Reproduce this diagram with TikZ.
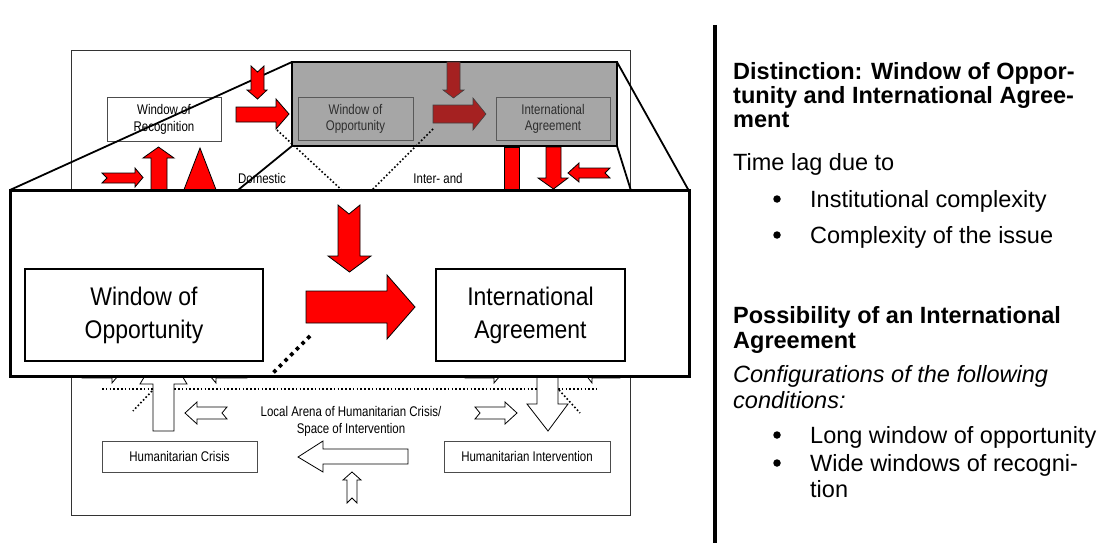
\documentclass[tikz,border=0pt]{standalone}
\usepackage{fontspec}
\setmainfont{Liberation Sans}
\newfontfamily\narrowfont{Liberation Sans}[FakeStretch=0.82]
\newfontfamily\midfont{Liberation Sans}[FakeStretch=0.9]
\definecolor{darkred}{RGB}{165,33,33}
\definecolor{boxgray}{RGB}{166,166,166}
\begin{document}
\begin{tikzpicture}[x=1pt,y=-1pt,
  redarrow/.style={fill=red,draw=black,line width=0.8pt,line join=miter},
  darkarrow/.style={fill=darkred,draw=black!75,line width=0.6pt,line join=miter},
  whitearrow/.style={fill=white,draw=black,line width=0.8pt,line join=miter},
  smallbox/.style={draw=black!70,line width=0.8pt,fill=white,inner sep=0pt,align=center,
     font=\narrowfont\fontsize{14}{17}\selectfont},
  graysub/.style={draw=black!65,line width=0.8pt,inner sep=0pt,align=center,text=black!82,
     font=\narrowfont\fontsize{14}{16}\selectfont},
  bigbox/.style={draw=black,line width=1.6pt,fill=white,inner sep=0pt,align=center,
     font=\midfont\fontsize{25.5}{33}\selectfont},
  smalltext/.style={inner sep=0pt,align=center,font=\narrowfont\fontsize{14}{17}\selectfont},
  projline/.style={draw=black,line width=1.8pt},
  thindot/.style={draw=black,line width=1.6pt,dash pattern=on 1.6pt off 2.2pt},
  thickdot/.style={draw=black,line width=3.6pt,dash pattern=on 3.6pt off 4.4pt},
  paneltext/.style={inner sep=0pt,anchor=base west,font=\fontsize{23.5}{26}\selectfont},
  panelbold/.style={paneltext,font=\bfseries\fontsize{23.5}{26}\selectfont},
  panelit/.style={paneltext,font=\itshape\fontsize{23.5}{26}\selectfont},
  bulletdot/.style={circle,fill=black,inner sep=0pt,minimum size=7.5pt}]
\useasboundingbox (0,0) rectangle (1116,543);
\fill[white] (0,0) rectangle (1116,543);

% background frame
\draw[black!80,line width=0.9pt] (71,50) rectangle (630,515);

% window of recognition
\node[smallbox,minimum width=114pt,minimum height=44pt] (wor) at (164,119) {Window of\\Recognition};

% texts in frame
\node[smalltext] (dom) at (262,178) {Domestic};
\node[smalltext] (inter) at (438,178) {Inter- and};

% projection lines
\coordinate (gtl) at (292,62);
\coordinate (gbl) at (292,146);
\coordinate (gtr) at (617,62);
\coordinate (gbr) at (617,146);
\coordinate (btl) at (10,190);
\coordinate (bbl) at (10,376);
\coordinate (btr) at (689,191);
\coordinate (bbr) at (689,376);
\draw[projline] (gtl) -- (btl);
\draw[projline] (gbl) -- (bbl);
\draw[projline] (gtr) -- (btr);
\draw[projline] (gbr) -- (bbr);

% dotted lines behind
\draw[thindot] (277,130) -- (345,193);

% gray box
\draw[fill=boxgray,draw=black,line width=2.2pt] (gtl) rectangle (gbr);
\node[graysub,minimum width=115pt,minimum height=43pt] (woo1) at (355.5,118.5) {Window of\\Opportunity};
\node[graysub,minimum width=114pt,minimum height=43pt] (ia1) at (553,118.5) {International\\Agreement};
\draw[thindot] (433,129) -- (369,193);

% dark red arrows in gray box
\draw[darkarrow] (447,62) -- (460,62) -- (460,90) -- (464,90) -- (453.5,98) -- (443,90) -- (447,90) -- cycle;
\draw[darkarrow] (433,105) -- (473,105) -- (473,98) -- (486,114) -- (473,130) -- (473,123) -- (433,123) -- cycle;

% red arrows left
\draw[redarrow] (251,66) -- (257.5,72) -- (264,66) -- (264,90) -- (267,90) -- (257.5,99) -- (247,90) -- (251,90) -- cycle;
\draw[redarrow] (236,107) -- (276,107) -- (276,99) -- (289,114) -- (276,129) -- (276,122) -- (236,122) -- cycle;
\draw[redarrow] (151,200) -- (151,158) -- (143,158) -- (158.5,147) -- (174,158) -- (167,158) -- (167,200) -- cycle;
\draw[redarrow] (180,200) -- (200,148) -- (220,200) -- cycle;
\draw[redarrow] (102,173) -- (135,173) -- (135,168) -- (143,177.5) -- (135,187) -- (135,183) -- (102,183) -- (107,178) -- cycle;

% red arrows right
\draw[redarrow] (504,147) rectangle (519,200);
\draw[redarrow] (546,147) -- (561,147) -- (561,178) -- (568,178) -- (553.5,189) -- (538,178) -- (546,178) -- cycle;
\draw[redarrow] (610,168) -- (605,173) -- (610,178) -- (579,178) -- (579,182) -- (568,173) -- (579,163) -- (579,168) -- cycle;

% lower arena
\draw[thindot] (102,389) -- (597,389);
\draw[thindot] (152,391) -- (133,411);
\draw[thindot] (559,390) -- (580,413);
\draw[whitearrow] (153,431) -- (153,384) -- (140,384) -- (163.5,345) -- (187,384) -- (174,384) -- (174,431) -- cycle;
\draw[whitearrow] (82,366) -- (112,366) -- (112,360) -- (123,370) -- (112,383) -- (112,378) -- (82,378) -- cycle;
\draw[whitearrow] (247,366) -- (216,366) -- (216,360) -- (205,370) -- (216,383) -- (216,378) -- (247,378) -- cycle;
\draw[whitearrow] (465,366) -- (494,366) -- (494,360) -- (505,370) -- (494,383) -- (494,378) -- (465,378) -- cycle;
\draw[whitearrow] (620,366) -- (592,366) -- (592,360) -- (582,370) -- (592,383) -- (592,378) -- (620,378) -- cycle;
\draw[whitearrow] (537,365) -- (558,365) -- (558,404) -- (568,404) -- (548,431) -- (527,404) -- (537,404) -- cycle;
\draw[whitearrow] (227,407) -- (222,413) -- (227,419) -- (197,419) -- (197,424) -- (185,413) -- (197,402) -- (197,407) -- cycle;
\draw[whitearrow] (475,407) -- (480,413) -- (475,419) -- (505,419) -- (505,424) -- (517,413) -- (505,402) -- (505,407) -- cycle;
\draw[whitearrow] (408,449) -- (323,449) -- (323,441) -- (298,457) -- (323,472) -- (323,464) -- (408,464) -- cycle;
\draw[whitearrow] (347,503) -- (352,498) -- (357,503) -- (357,480) -- (361,480) -- (352,472) -- (343,480) -- (347,480) -- cycle;
\node[smalltext] (arena) at (351,421) {Local Arena of Humanitarian Crisis/\\Space of Intervention};
\node[smallbox,minimum width=155pt,minimum height=31pt] (crisis) at (179.5,456.5) {Humanitarian Crisis};
\node[smallbox,minimum width=166pt,minimum height=31pt] (interv) at (527,456.5) {Humanitarian Intervention};

% big zoomed box
\draw[fill=white,draw=black,line width=3pt] (btl) rectangle (bbr);
\node[bigbox,minimum width=238pt,minimum height=92pt] (woo2) at (144,315) {Window of\\Opportunity};
\node[bigbox,minimum width=189pt,minimum height=92pt] (ia2) at (530.5,315) {International\\Agreement};
\draw[redarrow] (338,205) -- (349,214) -- (360,205) -- (360,256) -- (371,256) -- (349.5,272) -- (328,256) -- (338,256) -- cycle;
\draw[redarrow] (306,291) -- (387,291) -- (387,275) -- (415,307) -- (387,339) -- (387,323) -- (306,323) -- cycle;
\draw[thickdot] (310,336) -- (273,373);

% right panel
\draw[line width=4.5pt] (715,25) -- (715,543);
\node[panelbold] (h1a) at (733,79) {Distinction: Window of Oppor-};
\node[panelbold] (h1b) at (733,103) {tunity and International Agree-};
\node[panelbold] (h1c) at (733,127) {ment};
\node[paneltext] (t1) at (733,170) {Time lag due to};
\node[bulletdot] (b1d) at (777,199) {};
\node[paneltext] (b1) at (810,207) {Institutional complexity};
\node[bulletdot] (b2d) at (777,235) {};
\node[paneltext] (b2) at (810,243) {Complexity of the issue};
\node[panelbold] (h2a) at (733,323) {Possibility of an International};
\node[panelbold] (h2b) at (733,348) {Agreement};
\node[panelit] (c1) at (733,382) {Configurations of the following};
\node[panelit] (c2) at (733,408) {conditions:};
\node[bulletdot] (b3d) at (777,435) {};
\node[paneltext] (b3) at (810,443) {Long window of opportunity};
\node[bulletdot] (b4d) at (777,463) {};
\node[paneltext] (b4) at (810,471) {Wide windows of recogni-};
\node[paneltext] (b4b) at (810,497) {tion};
\end{tikzpicture}
\end{document}
